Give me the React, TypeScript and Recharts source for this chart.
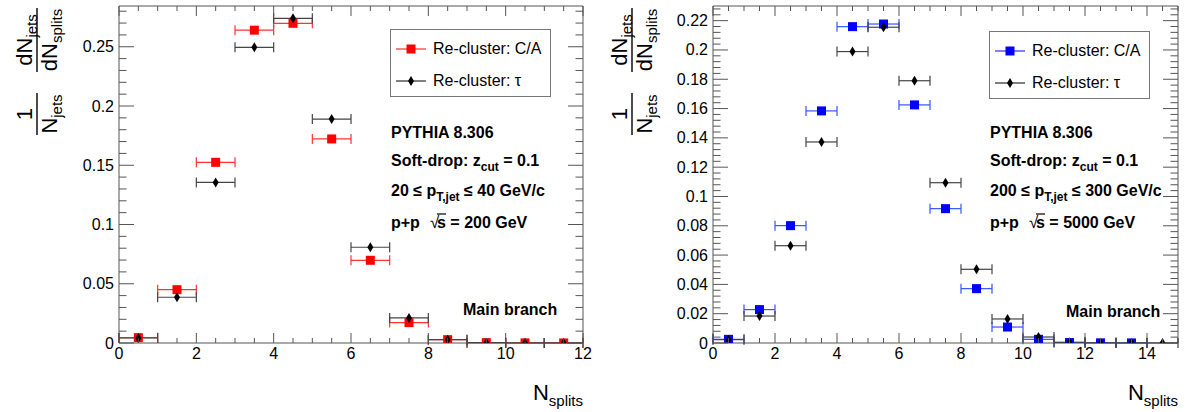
import { ScatterChart, Scatter, XAxis, YAxis, ErrorBar, ReferenceArea } from "recharts"

const FONT = "'Liberation Sans', Arial, Helvetica, sans-serif"

// N_splits bin centres
const binsLow = [0.5, 1.5, 2.5, 3.5, 4.5, 5.5, 6.5, 7.5, 8.5, 9.5, 10.5, 11.5]
const binsHigh = [0.5, 1.5, 2.5, 3.5, 4.5, 5.5, 6.5, 7.5, 8.5, 9.5, 10.5, 11.5, 12.5, 13.5, 14.5]

// 20 < pT < 40 GeV/c, sqrt(s) = 200 GeV
const caLow = [0.0045, 0.045, 0.1525, 0.264, 0.2698, 0.1722, 0.0698, 0.0172, 0.0028, 0.0003, 0.0001, 0.00005]
const tauLow = [0.0042, 0.0386, 0.1355, 0.2495, 0.274, 0.189, 0.0808, 0.0212, 0.0028, 0.0003, 0.0001, 0.00005]

// 200 < pT < 300 GeV/c, sqrt(s) = 5000 GeV
const caHigh = [0.0025, 0.0228, 0.0801, 0.1584, 0.2159, 0.2177, 0.1625, 0.0917, 0.0371, 0.0109, 0.0025, 0.0003, 0.0001, 0.00005]
const tauHigh = [0.0023, 0.0184, 0.0664, 0.1372, 0.1989, 0.2155, 0.179, 0.1094, 0.0503, 0.0164, 0.0041, 0.0005, 0.0002, 0.0001, 0.00005]

const xTicksLow = [0, 2, 4, 6, 8, 10, 12]
const yTicksLow = [0, 0.05, 0.1, 0.15, 0.2, 0.25]
const xTicksHigh = [0, 2, 4, 6, 8, 10, 12, 14]
const yTicksHigh = [0, 0.02, 0.04, 0.06, 0.08, 0.1, 0.12, 0.14, 0.16, 0.18, 0.2, 0.22]

const BIN_HALF = 0.5
const TOP = 6
const BOTTOM = 343
const FRAME = "#555"

type Pt = { x: number; y: number; xerr: number }
const toPoints = (bins: number[], vals: number[]): Pt[] =>
  vals.map((y, i) => ({ x: bins[i], y, xerr: BIN_HALF }))

// minor ticks between the labelled ones
const subdivide = (majors: number[], parts: number, max: number) => {
  const step = (majors[1] - majors[0]) / parts
  const out: number[] = []
  for (let i = 0; ; i++) {
    const v = +(i * step).toFixed(6)
    if (v > max + 1e-9) break
    out.push(v)
  }
  return out
}

const isMajor = (majors: number[], v: number) => majors.some((m) => Math.abs(m - v) < 1e-9)
const fmt = (v: number) => String(+v.toFixed(3))

type Geo = { left: number; right: number }

const makeXTick = (majors: number[]) => (p: any) => {
  const v = p.payload.value
  const major = isMajor(majors, v)
  const len = major ? 10 : 5
  return (
    <g>
      <line x1={p.x} x2={p.x} y1={BOTTOM} y2={BOTTOM - len} stroke={FRAME} />
      <line x1={p.x} x2={p.x} y1={TOP} y2={TOP + len} stroke={FRAME} />
      {major && (
        <text x={p.x} y={BOTTOM + 16} textAnchor="middle" fontFamily={FONT} fontSize={16} fill="#000">
          {fmt(v)}
        </text>
      )}
    </g>
  )
}

const makeYTick = (majors: number[], g: Geo) => (p: any) => {
  const v = p.payload.value
  const major = isMajor(majors, v)
  const len = major ? 15 : 7.5
  return (
    <g>
      <line x1={g.left} x2={g.left + len} y1={p.y} y2={p.y} stroke={FRAME} />
      <line x1={g.right} x2={g.right - len} y1={p.y} y2={p.y} stroke={FRAME} />
      {major && (
        <text x={g.left - 5} y={p.y + 5.5} textAnchor="end" fontFamily={FONT} fontSize={16} fill="#000">
          {fmt(v)}
        </text>
      )}
    </g>
  )
}

const square = (color: string) => (p: any) => (
  <rect x={p.cx - 4.5} y={p.cy - 4.5} width={9} height={9} fill={color} />
)
const diamond = (p: any) => (
  <polygon points={`${p.cx},${p.cy - 5} ${p.cx + 3},${p.cy} ${p.cx},${p.cy + 5} ${p.cx - 3},${p.cy}`} fill="#000" />
)

const LegendBox = ({ color, left, top }: { color: string; left: number; top: number }) => (
  <div
    style={{
      position: "absolute",
      left,
      top,
      width: 161,
      height: 68,
      boxSizing: "border-box",
      border: "1px solid #777",
      background: "#fff",
      fontFamily: FONT,
      fontSize: 16,
      color: "#000",
    }}
  >
    {[
      { label: "Re-cluster: C/A", c: color, icon: "sq" },
      { label: "Re-cluster: τ", c: "#000", icon: "dia" },
    ].map((row, i) => (
      <div key={row.label} style={{ position: "absolute", left: 4, top: 9 + i * 32, height: 20, display: "flex", alignItems: "center" }}>
        <svg width={32} height={20}>
          <line x1={1} x2={31} y1={10} y2={10} stroke={row.c} />
          {row.icon === "sq" ? (
            <rect x={11.5} y={5.5} width={9} height={9} fill={row.c} />
          ) : (
            <polygon points="16,5 19,10 16,15 13,10" fill="#000" />
          )}
        </svg>
        <span style={{ marginLeft: 6, whiteSpace: "nowrap" }}>{row.label}</span>
      </div>
    ))}
  </div>
)

type PanelProps = {
  offset: number
  width: number
  geo: Geo
  xMax: number
  yMax: number
  xMajors: number[]
  xParts: number
  yMajors: number[]
  yParts: number
  ca: Pt[]
  tau: Pt[]
  color: string
  barColor: string
  ptLo: string
  ptHi: string
  roots: string
  legendLeft: number
  legendTop: number
  textX: number
  branchX: number
  branchY: number
}

function Panel(props: PanelProps) {
  const { geo, width, textX } = props
  const xTicks = subdivide(props.xMajors, props.xParts, props.xMax)
  const yTicks = subdivide(props.yMajors, props.yParts, props.yMax)
  return (
    <div style={{ position: "absolute", left: props.offset, top: 0, width, height: 412 }}>
      <ScatterChart width={width} height={412} margin={{ top: TOP, right: width - geo.right, bottom: 0, left: 0 }}>
        <XAxis
          type="number"
          dataKey="x"
          domain={[0, props.xMax]}
          ticks={xTicks}
          interval={0}
          allowDataOverflow
          axisLine={false}
          tickLine={false}
          height={412 - BOTTOM}
          tick={makeXTick(props.xMajors)}
        />
        <YAxis
          type="number"
          dataKey="y"
          domain={[0, props.yMax]}
          ticks={yTicks}
          interval={0}
          allowDataOverflow
          axisLine={false}
          tickLine={false}
          width={geo.left}
          tick={makeYTick(props.yMajors, geo)}
        />
        <ReferenceArea x1={0} x2={props.xMax} y1={0} y2={props.yMax} fill="none" stroke={FRAME} strokeWidth={1} ifOverflow="visible" />
        <Scatter name="Re-cluster: C/A" data={props.ca} fill={props.color} shape={square(props.color)} isAnimationActive={false}>
          <ErrorBar dataKey="xerr" direction="x" width={5} stroke={props.barColor} strokeWidth={1.2} />
        </Scatter>
        <Scatter name="Re-cluster: τ" data={props.tau} fill="#000" shape={diamond} isAnimationActive={false}>
          <ErrorBar dataKey="xerr" direction="x" width={5} stroke="#444" strokeWidth={1.2} />
        </Scatter>
      </ScatterChart>
      <LegendBox color={props.color} left={props.legendLeft} top={props.legendTop} />
      <svg width={width} height={412} style={{ position: "absolute", left: 0, top: 0, pointerEvents: "none" }}>
        {/* y title: 1/N_jets dN_jets/dN_splits, rotated */}
        <g fontFamily={FONT} fill="#000">
          <g transform="translate(37,40) rotate(-90)">
            <line x1={-32} x2={32} y1={0} y2={0} stroke="#000" strokeWidth={1.4} />
            <text x={0} y={-5} textAnchor="middle" fontSize={22}>
              dN<tspan fontSize={15} dy={5}>jets</tspan>
            </text>
            <text x={0} y={20} textAnchor="middle" fontSize={22}>
              dN<tspan fontSize={15} dy={5}>splits</tspan>
            </text>
          </g>
          <g transform="translate(37,114) rotate(-90)">
            <line x1={-21} x2={21} y1={0} y2={0} stroke="#000" strokeWidth={1.4} />
            <text x={0} y={-5} textAnchor="middle" fontSize={22}>1</text>
            <text x={0} y={20} textAnchor="middle" fontSize={22}>
              N<tspan fontSize={15} dy={5}>jets</tspan>
            </text>
          </g>
          <text x={geo.right} y={400} textAnchor="end" fontSize={22}>
            N<tspan fontSize={15} dy={6}>splits</tspan>
          </text>
        </g>
        <g fontFamily={FONT} fontWeight="bold" fontSize={16} fill="#000">
          <text x={textX} y={138}>PYTHIA 8.306</text>
          <text x={textX} y={166} xmlSpace="preserve">
            Soft-drop: z<tspan fontSize={12} dy={5}>cut</tspan>
            <tspan dy={-5}> = 0.1</tspan>
          </text>
          <text x={textX} y={196} xmlSpace="preserve">
            {props.ptLo} ≤ p<tspan fontSize={12} dy={5}>T,jet</tspan>
            <tspan dy={-5}>{` ≤ ${props.ptHi} GeV/c`}</tspan>
          </text>
          <text x={textX} y={228} xmlSpace="preserve">{"p+p  "}</text>
          <text x={textX + 39} y={228} fontWeight="normal" fontSize={17}>√</text>
          <line x1={textX + 46} x2={textX + 55} y1={214} y2={214} stroke="#000" strokeWidth={1.2} />
          <text x={textX + 46} y={228} xmlSpace="preserve">{`s = ${props.roots} GeV`}</text>
          <text x={props.branchX} y={props.branchY}>Main branch</text>
        </g>
      </svg>
    </div>
  )
}

export default function App() {
  return (
    <div style={{ position: "absolute", left: 0, top: 0, width: 1189, height: 412, background: "#fff" }}>
      <Panel
        offset={0}
        width={595}
        geo={{ left: 119, right: 583 }}
        xMax={12}
        yMax={0.2844}
        xMajors={xTicksLow}
        xParts={4}
        yMajors={yTicksLow}
        yParts={5}
        ca={toPoints(binsLow, caLow)}
        tau={toPoints(binsLow, tauLow)}
        color="#ff0000"
        barColor="#ff3333"
        ptLo="20"
        ptHi="40"
        roots="200"
        legendLeft={390}
        legendTop={29}
        textX={391}
        branchX={463}
        branchY={315}
      />
      <Panel
        offset={595}
        width={594}
        geo={{ left: 118, right: 583 }}
        xMax={15}
        yMax={0.23}
        xMajors={xTicksHigh}
        xParts={4}
        yMajors={yTicksHigh}
        yParts={5}
        ca={toPoints(binsHigh, caHigh)}
        tau={toPoints(binsHigh, tauHigh)}
        color="#0000ff"
        barColor="#3355ff"
        ptLo="200"
        ptHi="300"
        roots="5000"
        legendLeft={394}
        legendTop={31}
        textX={395}
        branchX={471}
        branchY={317}
      />
    </div>
  )
}
